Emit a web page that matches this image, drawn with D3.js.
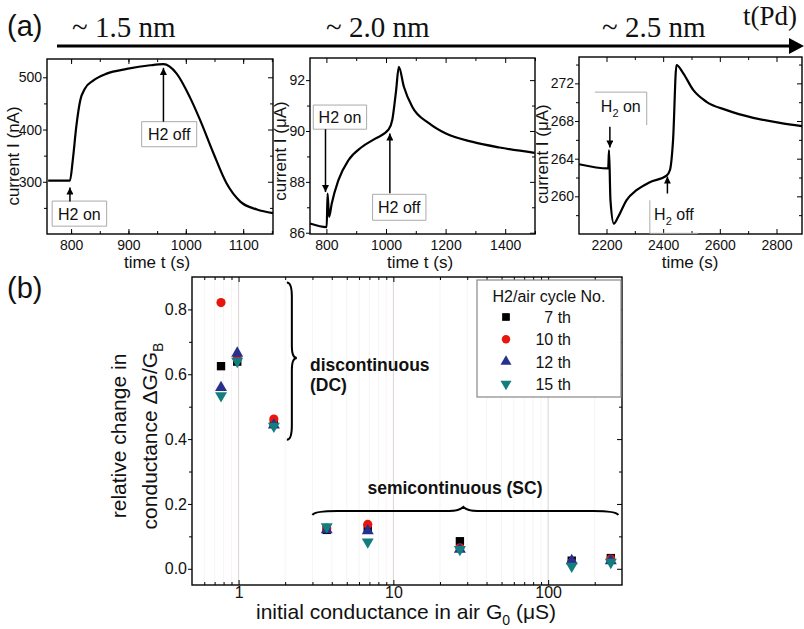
<!DOCTYPE html>
<html>
<head>
<meta charset="utf-8">
<script src="https://cdn.jsdelivr.net/npm/d3@7"></script>
<style>
body { margin: 0; background: #fff; }
svg { display: block; font-family: "Liberation Sans", Arial, sans-serif; }
</style>
</head>
<body>
<script>
// ---- panel (a): current transients, one per Pd thickness ----
var time15 = [760, 798, 803, 809, 816, 824, 839, 862, 897, 938, 961, 984, 1007, 1025, 1048, 1071, 1095, 1124, 1152];
var curr15 = [302, 302, 342, 405, 456, 478, 494, 507, 516, 523, 525, 507, 462, 418, 355, 297, 262, 247, 240];

var time20 = [745, 801, 804, 809, 818, 840, 874, 919, 964, 1009, 1021, 1034, 1043, 1060, 1088, 1145, 1201, 1291, 1381, 1499];
var curr20 = [86.36, 86.22, 87.54, 86.62, 87.15, 88.06, 88.85, 89.37, 89.7, 90.06, 90.43, 91.6, 92.52, 91.74, 90.95, 90.3, 89.9, 89.57, 89.35, 89.14];

var time25 = [2103, 2206, 2209, 2214, 2226, 2241, 2271, 2306, 2353, 2412, 2424, 2435, 2447, 2471, 2506, 2553, 2624, 2718, 2812, 2890];
var curr25 = [263.41, 262.96, 264.9, 259.6, 257.1, 257.8, 259.6, 260.65, 261.5, 262.2, 262.8, 266, 273.95, 273.06, 271.3, 270.04, 269.16, 268.34, 267.8, 267.46];

var thickLabels = ["~ 1.5 nm", "~ 2.0 nm", "~ 2.5 nm"];

// ---- panel (b): relative conductance change vs initial conductance ----
var g0 = [0.77, 0.98, 1.69, 3.71, 6.83, 26.9, 142, 254];
var cycle7  = [0.625, 0.639, 0.447, 0.12, 0.125, 0.085, 0.025, 0.033];
var cycle10 = [0.821, 0.649, 0.462, 0.125, 0.137, 0.065, 0.02, 0.03];
var cycle12 = [0.559, 0.665, 0.443, 0.12, 0.117, 0.06, 0.025, 0.025];
var cycle15 = [0.534, 0.64, 0.44, 0.13, 0.083, 0.06, 0.008, 0.02];
var cycleNames = ["7 th", "10 th", "12 th", "15 th"];

var W = 804, H = 629;
var svg = d3.select("body").append("svg").attr("width", W).attr("height", H);

var defs = svg.append("defs");
defs.append("marker")
    .attr("id", "head")
    .attr("markerUnits", "userSpaceOnUse")
    .attr("markerWidth", 8).attr("markerHeight", 7)
    .attr("refX", 7).attr("refY", 3.5)
    .attr("orient", "auto")
    .append("path").attr("d", "M0,0L7,3.5L0,7Z").attr("fill", "#000");

//draws box, ticks and labels around a plot area
function frame(x, y, o) {
    var x0 = x.range()[0], x1 = x.range()[1];
    var y0 = y.range()[0], y1 = y.range()[1];
    var g = svg.append("g").attr("class", "frame");

    var bot = g.append("g").attr("transform", "translate(0," + y0 + ")")
        .call(d3.axisBottom(x).tickValues(o.xTicks).tickSizeInner(-5).tickSizeOuter(0)
            .tickPadding(o.xPad).tickFormat(o.xFmt || d3.format("")));
    bot.selectAll("text").style("font-size", o.fs + "px");
    g.append("g").attr("transform", "translate(0," + y0 + ")")
        .call(d3.axisBottom(x).tickValues(o.xMinor).tickSize(-3).tickFormat(""));
    g.append("g").attr("transform", "translate(0," + y1 + ")")
        .call(d3.axisTop(x).tickValues(o.xTicks).tickSize(-5).tickFormat(""));
    g.append("g").attr("transform", "translate(0," + y1 + ")")
        .call(d3.axisTop(x).tickValues(o.xMinor).tickSize(-3).tickFormat(""));

    var lef = g.append("g").attr("transform", "translate(" + x0 + ",0)")
        .call(d3.axisLeft(y).tickValues(o.yTicks).tickSizeInner(4).tickSizeOuter(0)
            .tickPadding(1).tickFormat(o.yFmt || d3.format("")));
    lef.selectAll("text").style("font-size", o.fs + "px");
    g.append("g").attr("transform", "translate(" + x0 + ",0)")
        .call(d3.axisLeft(y).tickValues(o.yMinor).tickSize(3).tickFormat(""));
    g.append("g").attr("transform", "translate(" + x1 + ",0)")
        .call(d3.axisRight(y).tickValues(o.yTicks).tickSize(-5).tickFormat(""));
    g.append("g").attr("transform", "translate(" + x1 + ",0)")
        .call(d3.axisRight(y).tickValues(o.yMinor).tickSize(-3).tickFormat(""));

    g.selectAll(".domain").remove();
    g.selectAll("text").attr("fill", "#111").attr("font-family", "Liberation Sans, Arial, sans-serif");
    g.append("rect")
        .attr("x", x0).attr("y", y1)
        .attr("width", x1 - x0).attr("height", y0 - y1)
        .attr("fill", "none").attr("stroke", "#000").attr("stroke-width", 1.4);
}

//annotation: gray box with label and arrow pointing at the curve
function note(x, y, a) {
    var bx0 = x(a.box[0]), bx1 = x(a.box[1]), by0 = y(a.box[2]), by1 = y(a.box[3]);
    var e = a.edges;
    var p = d3.path();
    if (e === "all") {
        p.rect(bx0, by0, bx1 - bx0, by1 - by0);
    } else if (e === "topright") {
        p.moveTo(bx0, by0); p.lineTo(bx1, by0); p.lineTo(bx1, by1);
    } else if (e === "leftbottom") {
        p.moveTo(bx0, by0); p.lineTo(bx0, by1); p.lineTo(bx1, by1);
    }
    svg.append("path").attr("d", p.toString())
        .attr("fill", e === "all" ? "#fff" : "none")
        .attr("stroke", "#aaa").attr("stroke-width", 1);
    var t = svg.append("text")
        .attr("x", (bx0 + bx1) / 2).attr("y", (by0 + by1) / 2 + 6 + (a.dy || 0))
        .attr("text-anchor", "middle")
        .style("font-size", "16px").attr("fill", "#111");
    if (a.sub) {
        t.append("tspan").text("H");
        t.append("tspan").text("2").attr("dy", 5).style("font-size", "11px");
        t.append("tspan").text(" " + a.label).attr("dy", -5);
    } else {
        t.text("H2 " + a.label);
    }
    svg.append("line")
        .attr("x1", x(a.t)).attr("x2", x(a.t))
        .attr("y1", y(a.tail)).attr("y2", y(a.head))
        .attr("stroke", "#000").attr("stroke-width", 1.5)
        .attr("marker-end", "url(#head)");
}

var line = function(x, y) {
    return d3.line().x(function(d) { return x(d[0]); }).y(function(d) { return y(d[1]); })
        .curve(d3.curveMonotoneX);
};

function yTitle(cx, cy, txt) {
    svg.append("text")
        .attr("transform", "translate(" + cx + "," + cy + ") rotate(-90)")
        .attr("text-anchor", "middle")
        .style("font-size", "17px").attr("fill", "#111")
        .text(txt);
}
function xTitle(cx, cy, txt) {
    svg.append("text").attr("x", cx).attr("y", cy)
        .attr("text-anchor", "middle")
        .style("font-size", "17px").attr("fill", "#111")
        .text(txt);
}

// ---------- panel (a) ----------
var x1 = d3.scaleLinear().domain([758, 1152]).range([47, 273]);
var y1 = d3.scaleLinear().domain([200, 535]).range([234, 59]);
frame(x1, y1, {xTicks: [800, 900, 1000, 1100], xMinor: d3.range(800, 1152, 50),
    yTicks: [300, 400, 500], yMinor: [250, 350, 450], fs: 14, xPad: 6});
note(x1, y1, {box: [767, 862, 263, 215], edges: "all", label: "on", t: 798, tail: 262, head: 289});
note(x1, y1, {box: [923, 1019, 415, 367], edges: "all", label: "off", t: 961, tail: 415, head: 518});
svg.append("path").datum(d3.zip(time15, curr15))
    .attr("d", line(x1, y1)).attr("fill", "none").attr("stroke", "#000").attr("stroke-width", 2.2);
yTitle(19, 156, "current I (nA)");
xTitle(157, 268, "time t (s)");

var x2 = d3.scaleLinear().domain([745, 1500]).range([310, 535]);
var y2 = d3.scaleLinear().domain([85.95, 92.87]).range([234, 58]);
frame(x2, y2, {xTicks: [800, 1000, 1200, 1400], xMinor: [900, 1100, 1300, 1500],
    yTicks: [86, 88, 90, 92], yMinor: [87, 89, 91], fs: 14, xPad: 6});
note(x2, y2, {box: [756, 935, 91.02, 90.07], edges: "all", label: "on", t: 797, tail: 90.07, head: 87.6});
note(x2, y2, {box: [955, 1134, 87.51, 86.49], edges: "all", label: "off", t: 1013, tail: 87.55, head: 89.9});
svg.append("path").datum(d3.zip(time20, curr20))
    .attr("d", line(x2, y2)).attr("fill", "none").attr("stroke", "#000").attr("stroke-width", 2.2);
yTitle(286, 151, "current I (\u03bcA)");
xTitle(420, 268, "time t (s)");

var x3 = d3.scaleLinear().domain([2103, 2890]).range([579, 802]);
var y3 = d3.scaleLinear().domain([256, 274.8]).range([234, 57]);
frame(x3, y3, {xTicks: [2200, 2400, 2600, 2800], xMinor: [2300, 2500, 2700],
    yTicks: [260, 264, 268, 272], yMinor: [258, 262, 266, 270, 274], fs: 14, xPad: 6});
note(x3, y3, {box: [2159, 2342, 271.07, 267.56], edges: "topright", label: "on", sub: true, t: 2212, tail: 267.4, head: 265.2, dy: -3});
note(x3, y3, {box: [2353, 2523, 259.58, 256.07], edges: "leftbottom", label: "off", sub: true, t: 2415, tail: 260.3, head: 262.1, dy: -3});
svg.append("path").datum(d3.zip(time25, curr25))
    .attr("d", line(x3, y3)).attr("fill", "none").attr("stroke", "#000").attr("stroke-width", 2.2);
yTitle(548, 154, "current I (\u03bcA)");
xTitle(690, 268, "time (s)");

// thickness arrow along the top
svg.append("line").attr("x1", 57).attr("x2", 792).attr("y1", 46).attr("y2", 46)
    .attr("stroke", "#000").attr("stroke-width", 3);
svg.append("path").attr("d", "M789,38L804,46L789,54Z").attr("fill", "#000");
svg.selectAll(".thick").data(thickLabels).enter().append("text")
    .attr("class", "thick")
    .attr("x", function(d, i) { return [72, 326, 602][i]; })
    .attr("y", 37)
    .attr("font-family", "Liberation Serif, Times New Roman, serif")
    .style("font-size", "29px").attr("fill", "#111")
    .text(function(d) { return d; });
svg.append("text").attr("x", 743).attr("y", 25)
    .attr("font-family", "Liberation Serif, Times New Roman, serif")
    .style("font-size", "27px").attr("fill", "#111").text("t(Pd)");
svg.append("text").attr("x", 7).attr("y", 36).style("font-size", "29px").attr("fill", "#111").text("(a)");
svg.append("text").attr("x", 7).attr("y", 298).style("font-size", "29px").attr("fill", "#111").text("(b)");

// ---------- panel (b) ----------
var xb = d3.scaleLog().domain([0.5, 300]).range([192, 622]);
var yb = d3.scaleLinear().domain([-0.05, 0.9]).range([585, 277]);

var minorB = [];
[0.1, 1, 10, 100].forEach(function(dec) {
    d3.range(2, 10).forEach(function(k) {
        var v = dec * k;
        if (v > 0.5 && v < 300) minorB.push(v);
    });
});

// faint vertical grid
svg.append("g").selectAll("line").data(minorB).enter().append("line")
    .attr("x1", xb).attr("x2", xb).attr("y1", 277).attr("y2", 585)
    .attr("stroke", "#f6f4f4").attr("stroke-width", 1);
svg.append("g").selectAll("line").data([1, 10, 100]).enter().append("line")
    .attr("x1", xb).attr("x2", xb).attr("y1", 277).attr("y2", 585)
    .attr("stroke", "#ddd3d3").attr("stroke-width", 1);

frame(xb, yb, {xTicks: [1, 10, 100], xMinor: minorB, xFmt: d3.format("d"),
    yTicks: [0, 0.2, 0.4, 0.6, 0.8], yMinor: [0.1, 0.3, 0.5, 0.7], yFmt: d3.format(".1f"),
    fs: 16, xPad: 2});

// braces
var bx = xb(2.05), btop = yb(0.883), bbot = yb(0.398), bmid = yb(0.65);
var vb = d3.path();
vb.moveTo(bx, btop);
vb.quadraticCurveTo(bx + 5, btop, bx + 5, btop + 14);
vb.lineTo(bx + 5, bmid - 12);
vb.quadraticCurveTo(bx + 5, bmid, bx + 10, bmid);
vb.quadraticCurveTo(bx + 5, bmid, bx + 5, bmid + 12);
vb.lineTo(bx + 5, bbot - 14);
vb.quadraticCurveTo(bx + 5, bbot, bx, bbot);
svg.append("path").attr("d", vb.toString()).attr("fill", "none").attr("stroke", "#000").attr("stroke-width", 2);

var hl = xb(3), hr = xb(284), hm = xb(28.3), hy = yb(0.166);
var hb = d3.path();
hb.moveTo(hl, hy);
hb.quadraticCurveTo(hl + 2, hy - 4, hl + 25, hy - 4);
hb.lineTo(hm - 14, hy - 4);
hb.quadraticCurveTo(hm - 4, hy - 4, hm, hy - 8);
hb.quadraticCurveTo(hm + 4, hy - 4, hm + 14, hy - 4);
hb.lineTo(hr - 25, hy - 4);
hb.quadraticCurveTo(hr - 2, hy - 4, hr, hy);
svg.append("path").attr("d", hb.toString()).attr("fill", "none").attr("stroke", "#000").attr("stroke-width", 2);

svg.append("text").attr("x", 310).attr("y", 371).style("font-size", "17.5px").attr("font-weight", "bold")
    .attr("fill", "#111").text("discontinuous");
svg.append("text").attr("x", 310).attr("y", 391).style("font-size", "17.5px").attr("font-weight", "bold")
    .attr("fill", "#111").text("(DC)");
svg.append("text").attr("x", xb(25)).attr("y", 494).attr("text-anchor", "middle")
    .style("font-size", "17.5px").attr("font-weight", "bold").attr("fill", "#111").text("semicontinuous (SC)");

// markers
var series = [
    {vals: cycle7, sym: d3.symbolSquare, size: 70, color: "#000"},
    {vals: cycle10, sym: d3.symbolCircle, size: 66, color: "#e8160c"},
    {vals: cycle12, sym: d3.symbolTriangle, size: 62, color: "#27308c"},
    {vals: cycle15, sym: d3.symbolTriangle, size: 62, color: "#147d7d", flip: true}
];
series.forEach(function(s) {
    svg.append("g").selectAll("path").data(s.vals).enter().append("path")
        .attr("d", d3.symbol().type(s.sym).size(s.size))
        .attr("transform", function(d, i) {
            return "translate(" + xb(g0[i]) + "," + yb(d) + ")" + (s.flip ? " rotate(180)" : "");
        })
        .attr("fill", s.color);
});

// legend
var leg = svg.append("g").attr("transform", "translate(477,280)");
leg.append("rect").attr("width", 144).attr("height", 117)
    .attr("fill", "#fff").attr("stroke", "#888").attr("stroke-width", 1.2);
leg.append("text").attr("x", 72).attr("y", 22).attr("text-anchor", "middle")
    .style("font-size", "16px").attr("fill", "#111").text("H2/air cycle No.");
var items = leg.selectAll(".item").data(series).enter().append("g")
    .attr("class", "item")
    .attr("transform", function(d, i) { return "translate(29," + (37 + i * 22.3) + ")"; });
items.append("path")
    .attr("d", function(d) { return d3.symbol().type(d.sym).size(d.size * 0.85)(); })
    .attr("transform", function(d) { return d.flip ? "rotate(180)" : null; })
    .attr("fill", function(d) { return d.color; });
items.append("text").attr("x", 65).attr("y", 6).attr("text-anchor", "end")
    .style("font-size", "16px").attr("fill", "#111")
    .text(function(d, i) { return cycleNames[i]; });

// titles for (b)
var yt = svg.append("text").attr("transform", "translate(126,436) rotate(-90)")
    .attr("text-anchor", "middle").style("font-size", "21px").attr("fill", "#111");
yt.text("relative change in");
var yt2 = svg.append("text").attr("transform", "translate(157,436) rotate(-90)")
    .attr("text-anchor", "middle").style("font-size", "21px").attr("fill", "#111");
yt2.append("tspan").text("conductance \u0394G/G");
yt2.append("tspan").text("B").attr("dy", 6).style("font-size", "14px");

var xt = svg.append("text").attr("x", 406).attr("y", 619).attr("text-anchor", "middle")
    .style("font-size", "21px").attr("fill", "#111");
xt.append("tspan").text("initial conductance in air G");
xt.append("tspan").text("0").attr("dy", 6).style("font-size", "14px");
xt.append("tspan").text(" (\u03bcS)").attr("dy", -6);
</script>
</body>
</html>
